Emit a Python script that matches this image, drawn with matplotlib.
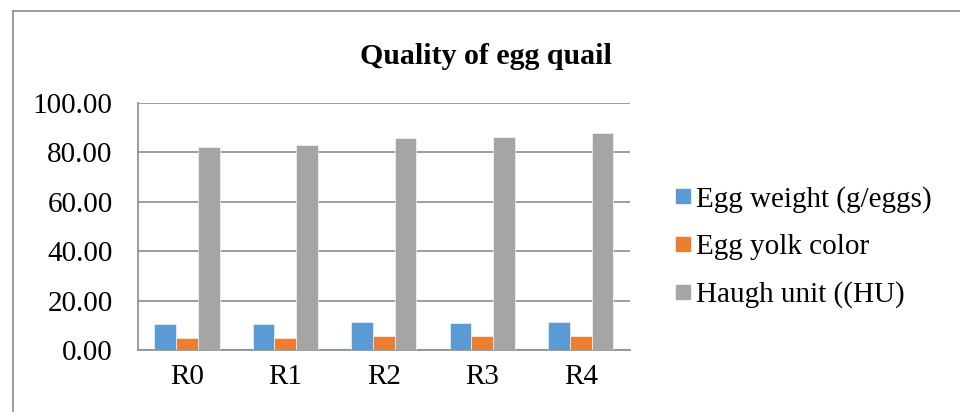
import numpy as np
import matplotlib.pyplot as plt
from matplotlib.lines import Line2D

categories = ['R0', 'R1', 'R2', 'R3', 'R4']
egg_weight = [10.4, 10.6, 11.3, 11.0, 11.3]
yolk_color = [4.7, 5.0, 5.5, 5.5, 5.65]
haugh_unit = [82.0, 82.8, 85.7, 86.3, 87.8]

series = [
    ('Egg weight (g/eggs)', egg_weight, '#5B9BD5'),
    ('Egg yolk color', yolk_color, '#ED7D31'),
    ('Haugh unit ((HU)', haugh_unit, '#A5A5A5'),
]

plt.rcParams['font.family'] = ['Liberation Serif', 'DejaVu Serif']

fig = plt.figure(figsize=(9.6, 4.12), dpi=100)
ax = fig.add_axes([0.1434, 0.1505, 0.5128, 0.6002])

x = np.arange(len(categories))
w = 0.221
for i, (label, vals, color) in enumerate(series):
    ax.bar(x + (i - 1) * w, vals, w, color=color, label=label,
           edgecolor='white', linewidth=0.4, zorder=3)

ax.set_xlim(-0.5, len(categories) - 0.5)
ax.set_ylim(0, 100)
ax.set_yticks(np.arange(0, 101, 20))
ax.set_yticklabels(['%.2f' % v for v in np.arange(0, 101, 20)])
ax.set_xticks(x)
ax.set_xticklabels(categories)
ax.tick_params(axis='both', length=0, labelsize=21)
ax.tick_params(axis='y', pad=18)
ax.tick_params(axis='x', pad=10)
ax.grid(axis='y', color='#8C8C8C', linewidth=1.2, zorder=0)
for s in ['top', 'right']:
    ax.spines[s].set_visible(False)
for s in ['left', 'bottom']:
    ax.spines[s].set_color('#8C8C8C')
    ax.spines[s].set_linewidth(1.2)

fig.text(0.506, 0.862, 'Quality of egg quail', ha='center', va='center',
         fontsize=21.5, fontweight='bold')

handles = [Line2D([], [], marker='s', linestyle='none', markersize=10,
                  markerfacecolor=c, markeredgecolor=c) for _, _, c in series]
fig.legend(handles, [s[0] for s in series], loc='center left',
           bbox_to_anchor=(0.6875, 0.40), frameon=False, fontsize=21,
           handlelength=0.55, handletextpad=0.2, labelspacing=0.72,
           borderpad=0)

# outer chart frame
fig.add_artist(Line2D([13 / 960, 13 / 960], [0, 1 - 11 / 412],
                      transform=fig.transFigure, color='#8C8C8C', linewidth=1.2))
fig.add_artist(Line2D([13 / 960, 1], [1 - 11 / 412, 1 - 11 / 412],
                      transform=fig.transFigure, color='#8C8C8C', linewidth=1.2))

fig.savefig('out.png', dpi=100)
